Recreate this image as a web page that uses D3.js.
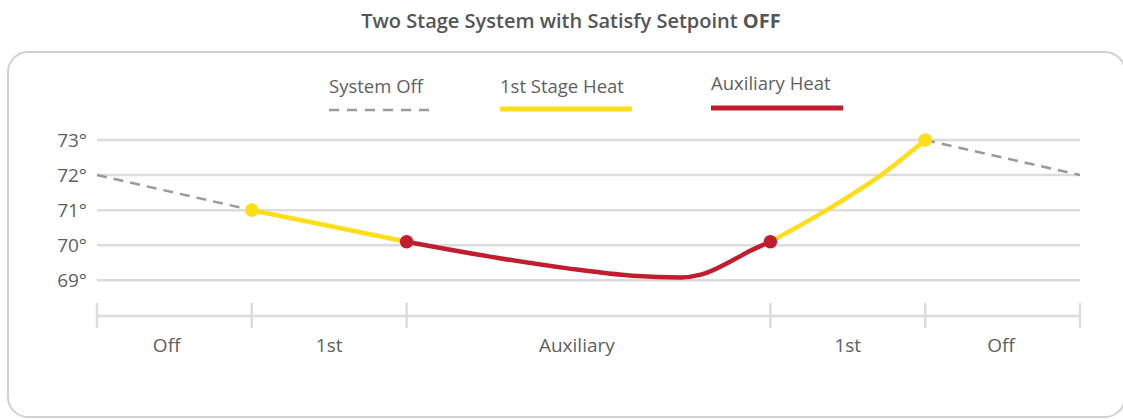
<!DOCTYPE html>
<html>
<head>
<meta charset="utf-8">
<script src="https://cdn.jsdelivr.net/npm/d3@7"></script>
<style>
  body { margin: 0; background: #fff; }
  svg { display: block; font-family: "Open Sans", "Noto Sans", sans-serif; }
</style>
</head>
<body>
<svg id="chart"></svg>
<script>
// phases along the bottom and where they start / end (minutes-ish units)
var phases = ["Off", "1st", "Auxiliary", "1st", "Off"];
var phaseBounds = [0, 10, 20, 43.5, 53.5, 63.5];
var phaseLabelAt = [4.5, 15, 31, 48.5, 58.4];
var yTicks = [69, 70, 71, 72, 73];

// temperature readings per segment [t, degrees]
var offStart = [[0, 72], [10, 71]];
var stageOneA = [[10, 71], [20, 70.1]];
var auxHeat = [[20, 70.1], [26, 69.63], [30.4, 69.34], [34.6, 69.13], [37.7, 69.08], [39, 69.16], [41.1, 69.58], [42.2, 69.84], [43.5, 70.1]];
var stageOneB = [[43.5, 70.1], [47.5, 71.1], [50.8, 72.05], [53.5, 73]];
var offEnd = [[53.5, 73], [63.5, 72]];

var legendItems = [
    { name: "System Off", kind: "off" },
    { name: "1st Stage Heat", kind: "first" },
    { name: "Auxiliary Heat", kind: "aux" }
];

var w = 1123, h = 419;
var grey = "#9a9a9a", yellow = "#fedd1b", red = "#c01e2e", grid = "#dcdcdc", txt = "#5f5f5f";

var svg = d3.select("#chart").attr("width", w).attr("height", h);

// frame (right side runs just past the edge)
svg.append("rect")
    .attr("x", 8).attr("y", 52)
    .attr("width", 1117).attr("height", 365)
    .attr("rx", 20).attr("ry", 20)
    .attr("fill", "none")
    .attr("stroke", "#d0d0d0")
    .attr("stroke-width", 2);

// title
var title = svg.append("text")
    .attr("x", 571).attr("y", 28)
    .attr("text-anchor", "middle")
    .attr("font-size", 20)
    .attr("font-weight", 600)
    .attr("fill", "#555");
title.append("tspan").text("Two Stage System with Satisfy Setpoint ");
title.append("tspan").attr("font-weight", 700).text("OFF");

var x = d3.scaleLinear().domain([0, 63.5]).range([97, 1080]);
var y = d3.scaleLinear().domain([69, 73]).range([280.3, 140]);

// horizontal grid
svg.append("g")
    .selectAll("line")
    .data(yTicks)
    .join("line")
    .attr("x1", x(0)).attr("x2", x(63.5))
    .attr("y1", d => y(d)).attr("y2", d => y(d))
    .attr("stroke", grid)
    .attr("stroke-width", 2.5);

// y labels
var yAxis = d3.axisLeft(y).tickValues(yTicks).tickSize(0).tickPadding(0).tickFormat(d => d + "°");
svg.append("g")
    .attr("transform", "translate(87,0)")
    .call(yAxis)
    .call(g => g.select(".domain").remove())
    .selectAll("text")
    .attr("font-family", "'Open Sans', sans-serif")
    .attr("font-size", 19)
    .attr("font-weight", 400)
    .attr("fill", txt)
    .attr("dy", "0.35em");

// phase axis
var axisY = 316;
svg.append("line")
    .attr("x1", x(0)).attr("x2", x(63.5))
    .attr("y1", axisY).attr("y2", axisY)
    .attr("stroke", grid).attr("stroke-width", 2.5);
svg.append("g")
    .selectAll("line")
    .data(phaseBounds)
    .join("line")
    .attr("x1", d => x(d)).attr("x2", d => x(d))
    .attr("y1", axisY - 13).attr("y2", axisY + 12)
    .attr("stroke", grid).attr("stroke-width", 2.5);
svg.append("g")
    .selectAll("text")
    .data(phases)
    .join("text")
    .attr("x", (d, i) => x(phaseLabelAt[i]))
    .attr("y", 352)
    .attr("text-anchor", "middle")
    .attr("font-size", 19)
    .attr("font-weight", 400)
    .attr("fill", txt)
    .text(d => d);

// lines
var straight = d3.line().x(d => x(d[0])).y(d => y(d[1]));
var smooth = d3.line().x(d => x(d[0])).y(d => y(d[1])).curve(d3.curveMonotoneX);

function dashed(data) {
    svg.append("path")
        .attr("d", straight(data))
        .attr("fill", "none")
        .attr("stroke", grey)
        .attr("stroke-width", 2.5)
        .attr("stroke-dasharray", "10,7");
}
dashed(offStart);
dashed(offEnd);

svg.append("path").attr("d", straight(stageOneA))
    .attr("fill", "none").attr("stroke", yellow).attr("stroke-width", 4.5);
svg.append("path").attr("d", smooth(stageOneB))
    .attr("fill", "none").attr("stroke", yellow).attr("stroke-width", 4.5);
svg.append("path").attr("d", smooth(auxHeat))
    .attr("fill", "none").attr("stroke", red).attr("stroke-width", 4.5)
    .attr("stroke-linecap", "round");

// markers where the stage switches
var dots = [
    { p: stageOneA[0], c: yellow },
    { p: auxHeat[0], c: red },
    { p: stageOneB[0], c: red },
    { p: offEnd[0], c: yellow }
];
svg.append("g")
    .selectAll("circle")
    .data(dots)
    .join("circle")
    .attr("cx", d => x(d.p[0]))
    .attr("cy", d => y(d.p[1]))
    .attr("r", 6.8)
    .attr("fill", d => d.c);

// legend
var legendX = [329, 500, 711];
var legendTextY = [93, 93, 90];
var legendLineY = [110, 109, 108];
var lg = svg.append("g").selectAll("g").data(legendItems).join("g");
lg.append("text")
    .attr("x", (d, i) => legendX[i])
    .attr("y", (d, i) => legendTextY[i])
    .attr("font-size", 18.5)
    .attr("font-weight", 400)
    .attr("fill", txt)
    .text(d => d.name);
lg.append("line")
    .attr("x1", (d, i) => legendX[i])
    .attr("x2", (d, i) => legendX[i] + (d.kind === "off" ? 103 : 132))
    .attr("y1", (d, i) => legendLineY[i])
    .attr("y2", (d, i) => legendLineY[i])
    .attr("stroke", d => d.kind === "off" ? grey : d.kind === "first" ? yellow : red)
    .attr("stroke-width", d => d.kind === "off" ? 2.5 : 5)
    .attr("stroke-dasharray", d => d.kind === "off" ? "10,8" : null);
</script>
</body>
</html>
